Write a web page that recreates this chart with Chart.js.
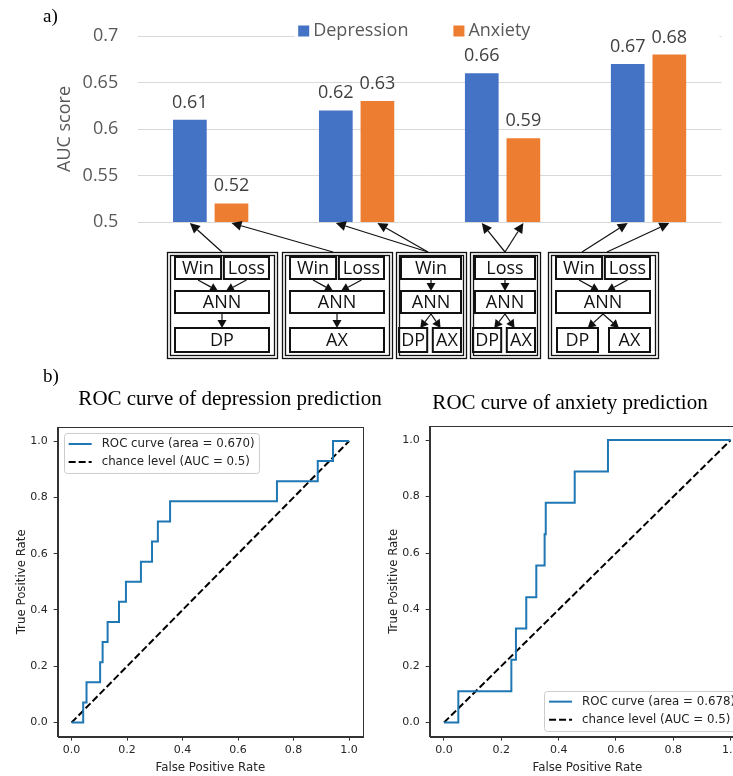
<!DOCTYPE html>
<html>
<head>
<meta charset="utf-8">
<script src="https://cdn.jsdelivr.net/npm/chart.js@4"></script>
<style>
html, body { margin: 0; padding: 0; background: #fff; overflow: hidden; width: 733px; height: 776px; }
#wrap { position: relative; width: 733px; height: 776px; overflow: hidden; }
canvas { position: absolute; }
.tag { position: absolute; font-family: 'Liberation Serif', 'Times New Roman', serif; font-size: 19px; line-height: 19px; color: #000; }
</style>
</head>
<body>
<div id="wrap">
  <canvas id="bars" width="733" height="365" style="left:0;top:0"></canvas>
  <canvas id="rocDep" width="460" height="406" style="left:0;top:370px"></canvas>
  <canvas id="rocAnx" width="376" height="406" style="left:382px;top:370px"></canvas>
  <div class="tag" style="left:43px;top:6px">a)</div>
  <div class="tag" style="left:43px;top:366px">b)</div>
</div>
<script>
// a) AUC per model
const groups = ['Win+Loss (single)', 'Win', 'Loss', 'Win+Loss'];
const depression = [0.61, 0.62, 0.66, 0.67];
const anxiety = [0.52, 0.63, 0.59, 0.68];
const aucTicks = [0.5, 0.55, 0.6, 0.65, 0.7];
const aucTickLabels = ['0.5', '0.55', '0.6', '0.65', '0.7'];

// model sketches under the bars
const blockInputs = [['Win', 'Loss'], ['Win', 'Loss'], ['Win'], ['Loss'], ['Win', 'Loss']];
const blockOutputs = [['DP'], ['AX'], ['DP', 'AX'], ['DP', 'AX'], ['DP', 'AX']];
const blockTargets = [[[0, 0]], [[1, 0]], [[0, 1], [1, 1]], [[0, 2], [1, 2]], [[0, 3], [1, 3]]]; // [dataset, group]

// b) ROC curves
const depFpr = [0, 0.042, 0.042, 0.054, 0.054, 0.103, 0.103, 0.112, 0.112, 0.130, 0.130, 0.171, 0.171, 0.196, 0.196,
  0.250, 0.250, 0.290, 0.290, 0.311, 0.311, 0.355, 0.355, 0.740, 0.740, 0.887, 0.887, 0.942, 0.942, 1.0];
const depTpr = [0, 0, 0.071, 0.071, 0.143, 0.143, 0.214, 0.214, 0.286, 0.286, 0.357, 0.357, 0.429, 0.429, 0.5,
  0.5, 0.571, 0.571, 0.643, 0.643, 0.714, 0.714, 0.786, 0.786, 0.857, 0.857, 0.929, 0.929, 1.0, 1.0];
const anxFpr = [0, 0.050, 0.050, 0.235, 0.235, 0.251, 0.251, 0.287, 0.287, 0.322, 0.322, 0.351, 0.351, 0.355, 0.355,
  0.456, 0.456, 0.572, 0.572, 1.0];
const anxTpr = [0, 0, 0.111, 0.111, 0.222, 0.222, 0.333, 0.333, 0.444, 0.444, 0.556, 0.556, 0.667, 0.667, 0.778,
  0.778, 0.889, 0.889, 1.0, 1.0];
const chanceX = [0, 1];
const chanceY = [0, 1];
const rocTicks = [0, 0.2, 0.4, 0.6, 0.8, 1.0];
const depLabels = ['ROC curve (area = 0.670)', 'chance level (AUC = 0.5)'];
const anxLabels = ['ROC curve (area = 0.678)', 'chance level (AUC = 0.5)'];

// sketch layout (canvas px)
const blockSpans = [[167, 277], [282, 392], [396, 466], [470, 540], [548, 658]];
const linkFrom = [[0], [-4], [-3, -3], [0, 0], [-21, 4]];
const rowOuter = [252, 358], rowIn = [257, 279], rowAnn = [291, 313], rowOut = [328, 352];

function arrow(ctx, x1, y1, x2, y2, len, half) {
  const a = Math.atan2(y2 - y1, x2 - x1);
  const bx = x2 - len * Math.cos(a), by = y2 - len * Math.sin(a);
  ctx.beginPath(); ctx.moveTo(x1, y1); ctx.lineTo(bx, by); ctx.stroke();
  ctx.beginPath(); ctx.moveTo(x2, y2);
  ctx.lineTo(bx + half * Math.sin(a), by - half * Math.cos(a));
  ctx.lineTo(bx - half * Math.sin(a), by + half * Math.cos(a));
  ctx.closePath(); ctx.fill();
}

function drawBox(ctx, x, y, w, h, label) {
  ctx.lineWidth = 2;
  ctx.strokeRect(x, y, w, h);
  ctx.fillText(label, x + w / 2, y + h / 2 + 1);
}

const barLegend = {
  id: 'barLegend',
  beforeDatasetsDraw(chart) {
    const ctx = chart.ctx, a = chart.chartArea;
    ctx.save();
    ctx.fillStyle = '#fff';
    ctx.fillRect(a.left + 157, a.top - 14, a.right - a.left - 159, 20);
    ctx.font = '18px "Open Sans"';
    ctx.textBaseline = 'middle';
    let x = a.left + 160.5;
    const y = a.top - 5;
    chart.data.datasets.forEach(ds => {
      ctx.fillStyle = ds.backgroundColor;
      ctx.fillRect(x, y - 5.5, 11, 11);
      ctx.fillStyle = '#595959';
      ctx.fillText(ds.label, x + 15, y);
      x += 15 + ctx.measureText(ds.label).width + 45;
    });
    ctx.restore();
  }
};

const barLabels = {
  id: 'barLabels',
  afterDatasetsDraw(chart) {
    const ctx = chart.ctx;
    ctx.save();
    ctx.font = '18px "Open Sans"';
    ctx.fillStyle = '#404040';
    ctx.textAlign = 'center';
    ctx.textBaseline = 'alphabetic';
    chart.data.datasets.forEach((ds, i) => {
      chart.getDatasetMeta(i).data.forEach((bar, j) => {
        ctx.fillText(ds.data[j].toFixed(2), bar.x, bar.y - 12);
      });
    });
    ctx.restore();
  }
};

const sketch = {
  id: 'sketch',
  afterDraw(chart) {
    const ctx = chart.ctx;
    const base = chart.scales.y.getPixelForValue(aucTicks[0]);
    ctx.save();
    ctx.strokeStyle = '#111';
    ctx.fillStyle = '#111';
    ctx.font = '18px "Open Sans"';
    ctx.textAlign = 'center';
    ctx.textBaseline = 'middle';
    blockSpans.forEach(([l, r], b) => {
      const cx = (l + r) / 2;
      const h = rowOuter[1] - rowOuter[0];
      ctx.lineWidth = 1.3;
      ctx.strokeRect(l + 0.5, rowOuter[0] + 0.5, r - l, h);
      ctx.strokeRect(l + 3.5, rowOuter[0] + 3.5, r - l - 6, h - 6);
      const m = r - l > 90 ? 8 : 5;
      const il = l + m, ir = r - m, w = ir - il;
      const ins = blockInputs[b];
      const inBoxes = ins.length === 2 ? [[il, il + w * 0.49], [il + w * 0.52, ir]] : [[il, ir]];
      inBoxes.forEach(([x0, x1], k) => drawBox(ctx, x0, rowIn[0], x1 - x0, rowIn[1] - rowIn[0], ins[k]));
      drawBox(ctx, il, rowAnn[0], w, rowAnn[1] - rowAnn[0], 'ANN');
      const outs = blockOutputs[b];
      let outBoxes;
      if (outs.length === 1) outBoxes = [[il, ir]];
      else {
        const ow = Math.min(w * 0.47, 41);
        outBoxes = [[il - (m < 8 ? 2 : -1), il - (m < 8 ? 2 : -1) + ow], [ir - ow, ir]];
      }
      outBoxes.forEach(([x0, x1], k) => drawBox(ctx, x0, rowOut[0], x1 - x0, rowOut[1] - rowOut[0], outs[k]));

      ctx.lineWidth = 1.2;
      const ac = il + w / 2;
      if (inBoxes.length === 2) {
        inBoxes.forEach(([x0, x1], k) => arrow(ctx, (x0 + x1) / 2, rowIn[1] + 1, ac + (k ? 4 : -4), rowAnn[0], 8, 4.5));
      } else {
        arrow(ctx, ac, rowIn[1] + 1, ac, rowAnn[0], 8, 4.5);
      }
      outBoxes.forEach(([x0, x1]) => {
        const oc = (x0 + x1) / 2;
        const tx = outBoxes.length === 1 ? ac : ac + (oc - ac) * 0.6;
        arrow(ctx, ac, rowAnn[1] + 1, tx, rowOut[0], 8, 4.5);
      });

      blockTargets[b].forEach(([ds, g], k) => {
        const bar = chart.getDatasetMeta(ds).data[g];
        arrow(ctx, cx + linkFrom[b][k], rowOuter[0], bar.x, base + 1, 10, 5);
      });
    });
    ctx.restore();
  }
};

new Chart(document.getElementById('bars'), {
  type: 'bar',
  data: {
    labels: groups,
    datasets: [
      {label: 'Depression', data: depression, backgroundColor: '#4472C4', categoryPercentage: 0.57, barPercentage: 0.81},
      {label: 'Anxiety', data: anxiety, backgroundColor: '#ED7D31', categoryPercentage: 0.57, barPercentage: 0.81}
    ]
  },
  options: {
    responsive: false,
    animation: false,
    layout: {padding: {left: 54, right: 11.5, top: 36, bottom: 143}},
    plugins: {legend: {display: false}, tooltip: {enabled: false}},
    scales: {
      x: {display: false},
      y: {
        min: 0.5, max: 0.7,
        afterBuildTicks: s => { s.ticks = aucTicks.map(v => ({value: v})); },
        afterFit: s => { s.width -= 19.5; },
        ticks: {callback: (v, i) => aucTickLabels[i], font: {family: 'Open Sans', size: 18}, color: '#595959', padding: 19.5},
        grid: {color: '#d9d9d9', drawTicks: false},
        border: {display: false},
        title: {display: true, text: 'AUC score', font: {family: 'Open Sans', size: 18}, color: '#595959', padding: {top: 0, bottom: 7}}
      }
    }
  },
  plugins: [barLegend, barLabels, sketch]
});

const frame = {
  id: 'frame',
  afterDraw(chart) {
    const ctx = chart.ctx, a = chart.chartArea;
    ctx.save();
    ctx.strokeStyle = '#333';
    ctx.lineWidth = 1;
    ctx.strokeRect(Math.round(a.left) + 0.5, Math.round(a.top) + 0.5, Math.round(a.right - a.left), Math.round(a.bottom - a.top));
    ctx.restore();
  }
};

const rocTitle = {
  id: 'rocTitle',
  afterDraw(chart, args, opts) {
    const ctx = chart.ctx;
    ctx.save();
    ctx.font = '21px "Liberation Serif"';
    ctx.fillStyle = '#000';
    ctx.textAlign = 'center';
    ctx.textBaseline = 'middle';
    ctx.fillText(opts.text, chart.width / 2, opts.y);
    ctx.restore();
  }
};

const rocLegend = {
  id: 'rocLegend',
  afterDraw(chart, args, opts) {
    const ctx = chart.ctx, a = chart.chartArea;
    ctx.save();
    ctx.font = '11.8px "DejaVu Sans"';
    const sets = chart.data.datasets;
    const tw = Math.max(...sets.map(d => ctx.measureText(d.label).width));
    const bw = tw + 42, bh = 40;
    const x = opts.corner === 'br' ? a.right - 6 - bw : a.left + 6;
    const y = opts.corner === 'br' ? a.bottom - 6 - bh : a.top + 6;
    ctx.fillStyle = 'rgba(255,255,255,0.8)';
    ctx.strokeStyle = '#cccccc';
    ctx.lineWidth = 1;
    ctx.beginPath();
    ctx.roundRect(Math.round(x) + 0.5, Math.round(y) + 0.5, bw, bh, 3);
    ctx.fill(); ctx.stroke();
    sets.forEach((d, i) => {
      const ly = y + 11 + i * 18;
      ctx.strokeStyle = d.borderColor;
      ctx.lineWidth = d.borderWidth;
      ctx.setLineDash(d.borderDash || []);
      ctx.beginPath(); ctx.moveTo(x + 5, ly); ctx.lineTo(x + 28, ly); ctx.stroke();
      ctx.setLineDash([]);
      ctx.fillStyle = '#222';
      ctx.textBaseline = 'middle';
      ctx.fillText(d.label, x + 38, ly);
    });
    ctx.restore();
  }
};

function rocChart(id, fpr, tpr, title, titleY, labels, corner, padding) {
  const tickFont = {family: 'DejaVu Sans', size: 11};
  const labelFont = {family: 'DejaVu Sans', size: 11.8};
  const axis = (text, pad) => ({
    type: 'linear', min: -0.05, max: 1.05,
    afterBuildTicks: s => { s.ticks = rocTicks.map(v => ({value: v})); },
    ticks: {callback: v => v.toFixed(1), font: tickFont, color: '#262626', padding: pad},
    grid: {drawOnChartArea: false, tickLength: 4, color: '#333'},
    border: {color: '#333'},
    title: {display: true, text, font: labelFont, color: '#262626', padding: {top: 1, bottom: 1}}
  });
  const x = axis('False Positive Rate', 3);
  const y = axis('True Positive Rate', 6);
  y.afterFit = s => { s.width -= 6; };
  return new Chart(document.getElementById(id), {
    type: 'line',
    data: {
      datasets: [
        {label: labels[0], data: fpr.map((v, i) => ({x: v, y: tpr[i]})), borderColor: '#1f77b4', borderWidth: 2,
          pointRadius: 0, fill: false, tension: 0},
        {label: labels[1], data: chanceX.map((v, i) => ({x: v, y: chanceY[i]})), borderColor: '#000', borderWidth: 2,
          borderDash: [7, 3], pointRadius: 0, fill: false}
      ]
    },
    options: {
      responsive: false,
      animation: false,
      layout: {padding},
      plugins: {
        legend: {display: false},
        tooltip: {enabled: false},
        rocTitle: {text: title, y: titleY},
        rocLegend: {corner}
      },
      scales: {x, y}
    },
    plugins: [frame, rocTitle, rocLegend]
  });
}

rocChart('rocDep', depFpr, depTpr, 'ROC curve of depression prediction', 29, depLabels, 'tl',
  {left: 14, right: 97, top: 57, bottom: 0});
rocChart('rocAnx', anxFpr, anxTpr, 'ROC curve of anxiety prediction', 33, anxLabels, 'br',
  {left: 4, right: 13, top: 56, bottom: 0});
</script>
</body>
</html>
